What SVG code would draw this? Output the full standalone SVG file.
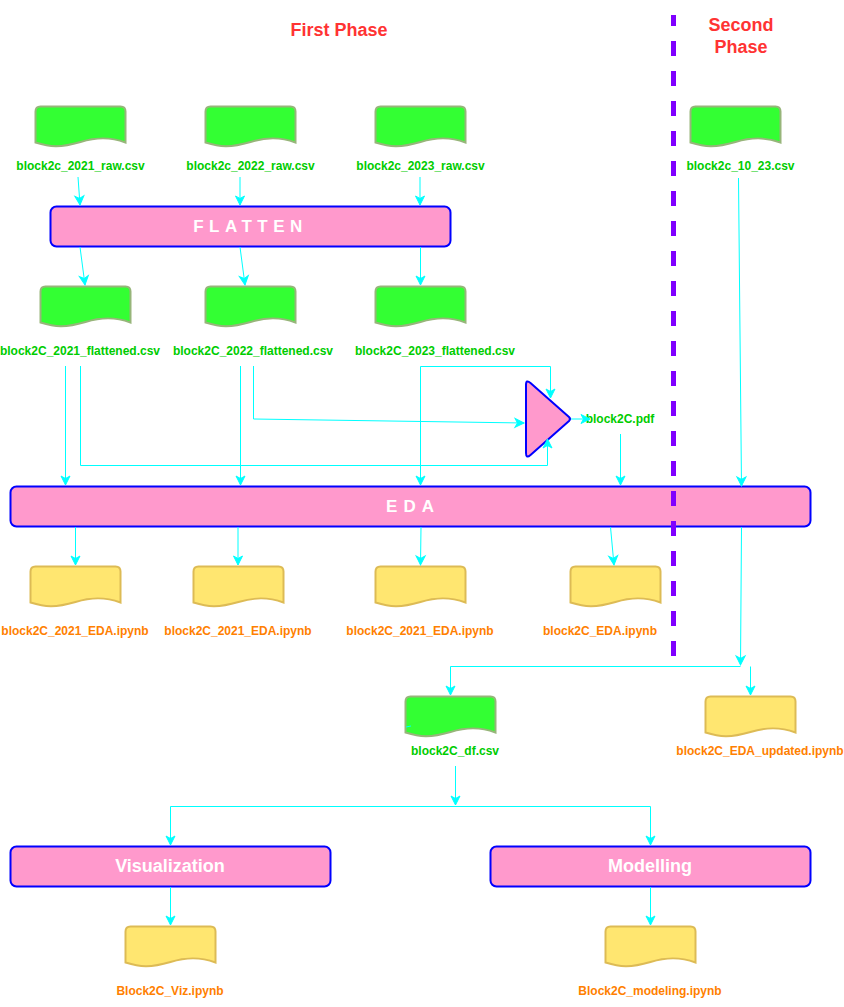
<svg xmlns="http://www.w3.org/2000/svg" width="844" height="1007" viewBox="0 0 844 1007">
<style>
text{font-family:"Liberation Sans",Arial,sans-serif;font-weight:bold;text-anchor:middle}
.g{font-size:12px;fill:#00CC00}
.o{font-size:12px;fill:#FF8000}
.r{font-size:18px;fill:#FF3333}
.b{fill:#FF99CC;stroke:#0000FF;stroke-width:2}
.t{fill:#fff}
.c path{fill:none;stroke:#00FFFF;stroke-width:1;marker-end:url(#a)}
.c path.n{marker-end:none}
.dg{fill:#33FF33;stroke:#97B57A;stroke-width:2}
.dy{fill:#FFE670;stroke:#DDBB55;stroke-width:2}
</style>
<defs>
<marker id="a" markerUnits="userSpaceOnUse" markerWidth="12" markerHeight="12" refX="9" refY="4.500" orient="auto" overflow="visible"><path d="M0 0L9 4.500L0 9L2.500 4.500Z" fill="#00FFFF" stroke="#00FFFF" stroke-width="1"/></marker>
<path id="d" d="M.5 5.500Q.5 .5 5.500 .5H85.500Q90.500 .5 90.500 5.500V36.500C75 31 62 31 45.500 36C25 42 15 41 .5 36.500Z"/>
</defs>
<g id="title-first"><text class="r" x="339" y="36">First Phase</text></g>
<g id="title-second"><text class="r" x="741" y="31">Second</text><text class="r" x="741" y="53">Phase</text></g>
<g id="raw-2021"><use href="#d" class="dg" x="35" y="106"/><text class="g" x="80.500" y="170">block2c_2021_raw.csv</text></g>
<g id="raw-2022"><use href="#d" class="dg" x="205" y="106"/><text class="g" x="250.500" y="170">block2c_2022_raw.csv</text></g>
<g id="raw-2023"><use href="#d" class="dg" x="375" y="106"/><text class="g" x="420.500" y="170">block2c_2023_raw.csv</text></g>
<g id="raw-10-23"><use href="#d" class="dg" x="690" y="106"/><text class="g" x="740.500" y="170">block2c_10_23.csv</text></g>
<g id="flatten"><rect class="b" x="50.500" y="206.500" width="400" height="40" rx="6"/><text class="t" x="250.500" y="232" font-size="17" letter-spacing="5.500">FLATTEN</text></g>
<g id="flat-2021"><use href="#d" class="dg" x="40" y="286"/><text class="g" x="80" y="355">block2C_2021_flattened.csv</text></g>
<g id="flat-2022"><use href="#d" class="dg" x="205" y="286"/><text class="g" x="253" y="355">block2C_2022_flattened.csv</text></g>
<g id="flat-2023"><use href="#d" class="dg" x="375" y="286"/><text class="g" x="435" y="355">block2C_2023_flattened.csv</text></g>
<g id="merge"><path class="b" stroke-linejoin="round" d="M526 385Q526 379 530.500 383L569 417Q571 419 569 421L530.500 455Q526 459 526 453Z"/></g>
<g id="pdf"><text class="g" x="620" y="423">block2C.pdf</text></g>
<g id="eda"><rect class="b" x="10.500" y="486.500" width="800" height="40" rx="6"/><text class="t" x="413" y="512" font-size="17" letter-spacing="6">EDA</text></g>
<g id="eda-2021-a"><use href="#d" class="dy" x="30" y="566"/><text class="o" x="75" y="635">block2C_2021_EDA.ipynb</text></g>
<g id="eda-2021-b"><use href="#d" class="dy" x="193" y="566"/><text class="o" x="238" y="635">block2C_2021_EDA.ipynb</text></g>
<g id="eda-2021-c"><use href="#d" class="dy" x="375" y="566"/><text class="o" x="420" y="635">block2C_2021_EDA.ipynb</text></g>
<g id="eda-all"><use href="#d" class="dy" x="570" y="566"/><text class="o" x="600" y="635">block2C_EDA.ipynb</text></g>
<g id="df"><use href="#d" class="dg" x="405" y="696"/><text class="g" x="455" y="755">block2C_df.csv</text></g>
<g id="eda-updated"><use href="#d" class="dy" x="705" y="696"/><text class="o" x="760" y="755">block2C_EDA_updated.ipynb</text></g>
<g id="viz"><rect class="b" x="10.500" y="846.500" width="320" height="40" rx="6"/><text class="t" x="170" y="872" font-size="18">Visualization</text></g>
<g id="model"><rect class="b" x="490.500" y="846.500" width="320" height="40" rx="6"/><text class="t" x="650" y="872" font-size="18">Modelling</text></g>
<g id="viz-nb"><use href="#d" class="dy" x="125" y="926"/><text class="o" x="170" y="995">Block2C_Viz.ipynb</text></g>
<g id="model-nb"><use href="#d" class="dy" x="605" y="926"/><text class="o" x="650" y="995">Block2C_modeling.ipynb</text></g>
<g id="phase-line"><path d="M673.500 15V656" fill="none" stroke="#7F00FF" stroke-width="5" stroke-dasharray="15 15" stroke-dashoffset="4"/></g>
<g id="connectors" class="c">
<path d="M78 177L80 205"/>
<path d="M240 177V205"/>
<path d="M420 177V205"/>
<path d="M80 247L85 285"/>
<path d="M240 247L245 285"/>
<path d="M420.500 247V285"/>
<path d="M65.500 366V485"/>
<path d="M80.500 366V465.500H547.500V439"/>
<path d="M240.500 366V485"/>
<path d="M253.500 366V419L524 423"/>
<path d="M420.500 366.500V485"/>
<path d="M420.500 366.500H550.500V398"/>
<path d="M571 419H590"/>
<path d="M620.500 434V485"/>
<path d="M738.500 178L741.500 486"/>
<path d="M75.500 527V565"/>
<path d="M238 527V565"/>
<path d="M421 527L420.500 565"/>
<path d="M610.500 527L614 565"/>
<path d="M741.500 527L740.500 665"/>
<path class="n" d="M740.500 666.500H450.500"/>
<path d="M450.500 666.500V695"/>
<path d="M750.500 666.500V695"/>
<path class="n" d="M406 727L411 726"/>
<path d="M455.500 766V805"/>
<path class="n" d="M170.500 806.500H650.500"/>
<path d="M170.500 806.500V845"/>
<path d="M650.500 806.500V845"/>
<path d="M170.500 887V925"/>
<path d="M650.500 887V925"/>
</g>
</svg>
